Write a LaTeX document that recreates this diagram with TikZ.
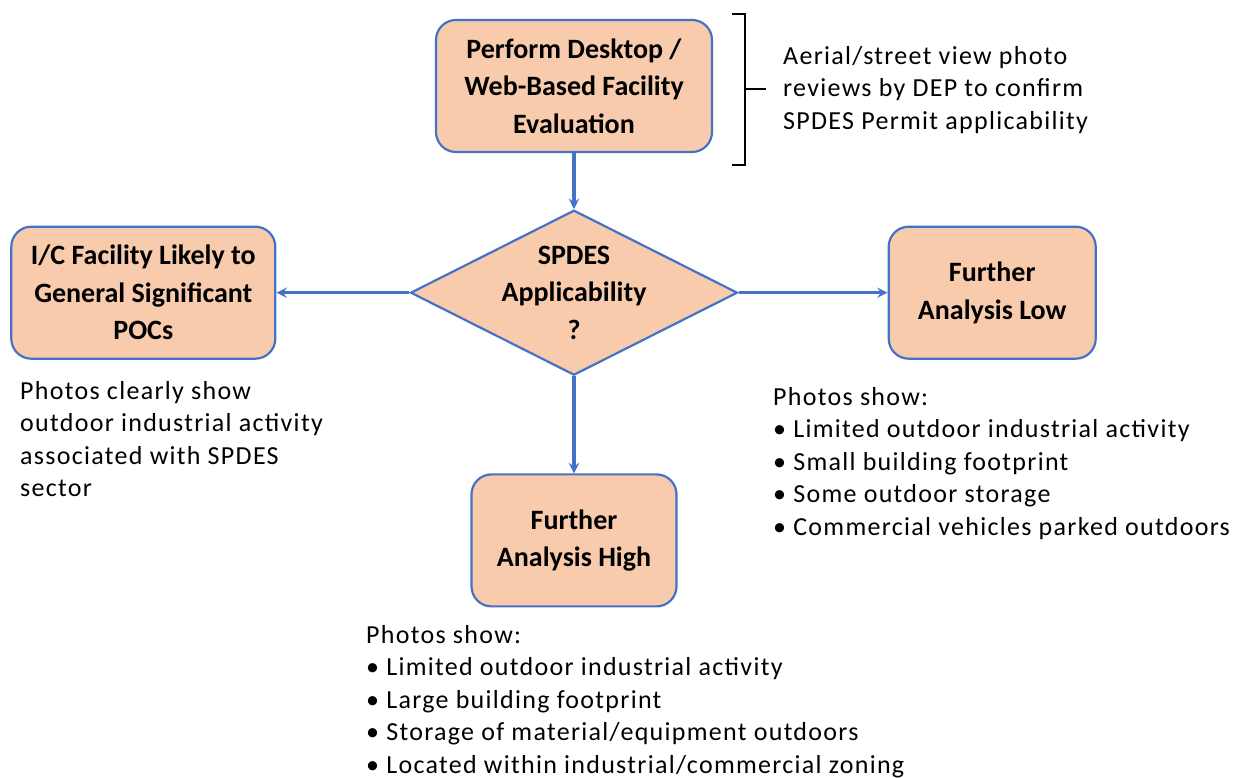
\documentclass[tikz,border=0pt]{standalone}
\usepackage{fontspec}
\setmainfont{Carlito}
\newfontfamily\notefont[LetterSpace=5]{Carlito}
\usepackage{xcolor}
\usepackage{tikz}
\usetikzlibrary{shapes.geometric, arrows, positioning}
\definecolor{boxfill}{RGB}{248,203,173}
\definecolor{flowblue}{RGB}{68,114,196}

\begin{document}
\begin{tikzpicture}[x=1pt, y=1pt, node distance=56pt, auto,
    stepbox/.style={rectangle, rounded corners=20pt, draw=flowblue, line width=2.2pt, fill=boxfill,
                  minimum height=132pt, align=center, font=\fontsize{28}{37.5}\selectfont\bfseries},
    decision/.style={diamond, draw=flowblue, line width=2.2pt, fill=boxfill,
                  inner sep=0pt, minimum width=327pt, minimum height=165pt},
    note/.style={anchor=north west, inner sep=0pt, align=left, font=\notefont\fontsize{26}{32.5}\selectfont},
    arrow/.style={->, >=stealth, line width=3.5pt, flowblue}]

    \useasboundingbox (0,0) rectangle (1233,778);

    \node[stepbox, minimum width=276pt] (eval) at (574,692) {Perform Desktop /\\Web-Based Facility\\Evaluation};
    \node[decision, below=of eval,
          label={[font=\fontsize{28}{37.5}\selectfont\bfseries, align=center]center:{SPDES\\Applicability\\?}}] (decide) {};
    \node[stepbox, minimum width=264pt, left=133pt of decide] (likely) {I/C Facility Likely to\\General Significant\\POCs};
    \node[stepbox, minimum width=207pt, right=149pt of decide] (low) {Further\\Analysis Low};
    \node[stepbox, minimum width=205pt, below=97pt of decide] (high) {Further\\Analysis High};

    % notes
    \node[note] (evalnote) at (783,732) {Aerial/street view photo\\reviews by DEP to confirm\\SPDES Permit applicability};
    \node[note] (likelynote) at (20,397) {Photos clearly show\\outdoor industrial activity\\associated with SPDES\\sector};
    \node[note] (lownote) at (773,391) {Photos show:\\\textbullet{} Limited outdoor industrial activity\\\textbullet{} Small building footprint\\\textbullet{} Some outdoor storage\\\textbullet{} Commercial vehicles parked outdoors};
    \node[note] (highnote) at (366,153) {Photos show:\\\textbullet{} Limited outdoor industrial activity\\\textbullet{} Large building footprint\\\textbullet{} Storage of material/equipment outdoors\\\textbullet{} Located within industrial/commercial zoning};

    % bracket
    \draw[line width=2pt] (732,764) -- (745,764) -- (745,613) -- (732,613);
    \draw[line width=2pt] (745,689) -- (766,689);

    \draw[arrow] (eval) -- (decide);
    \draw[arrow] (decide) -- (likely);
    \draw[arrow] (decide) -- (low);
    \draw[arrow] (decide) -- (high);
\end{tikzpicture}
\end{document}
